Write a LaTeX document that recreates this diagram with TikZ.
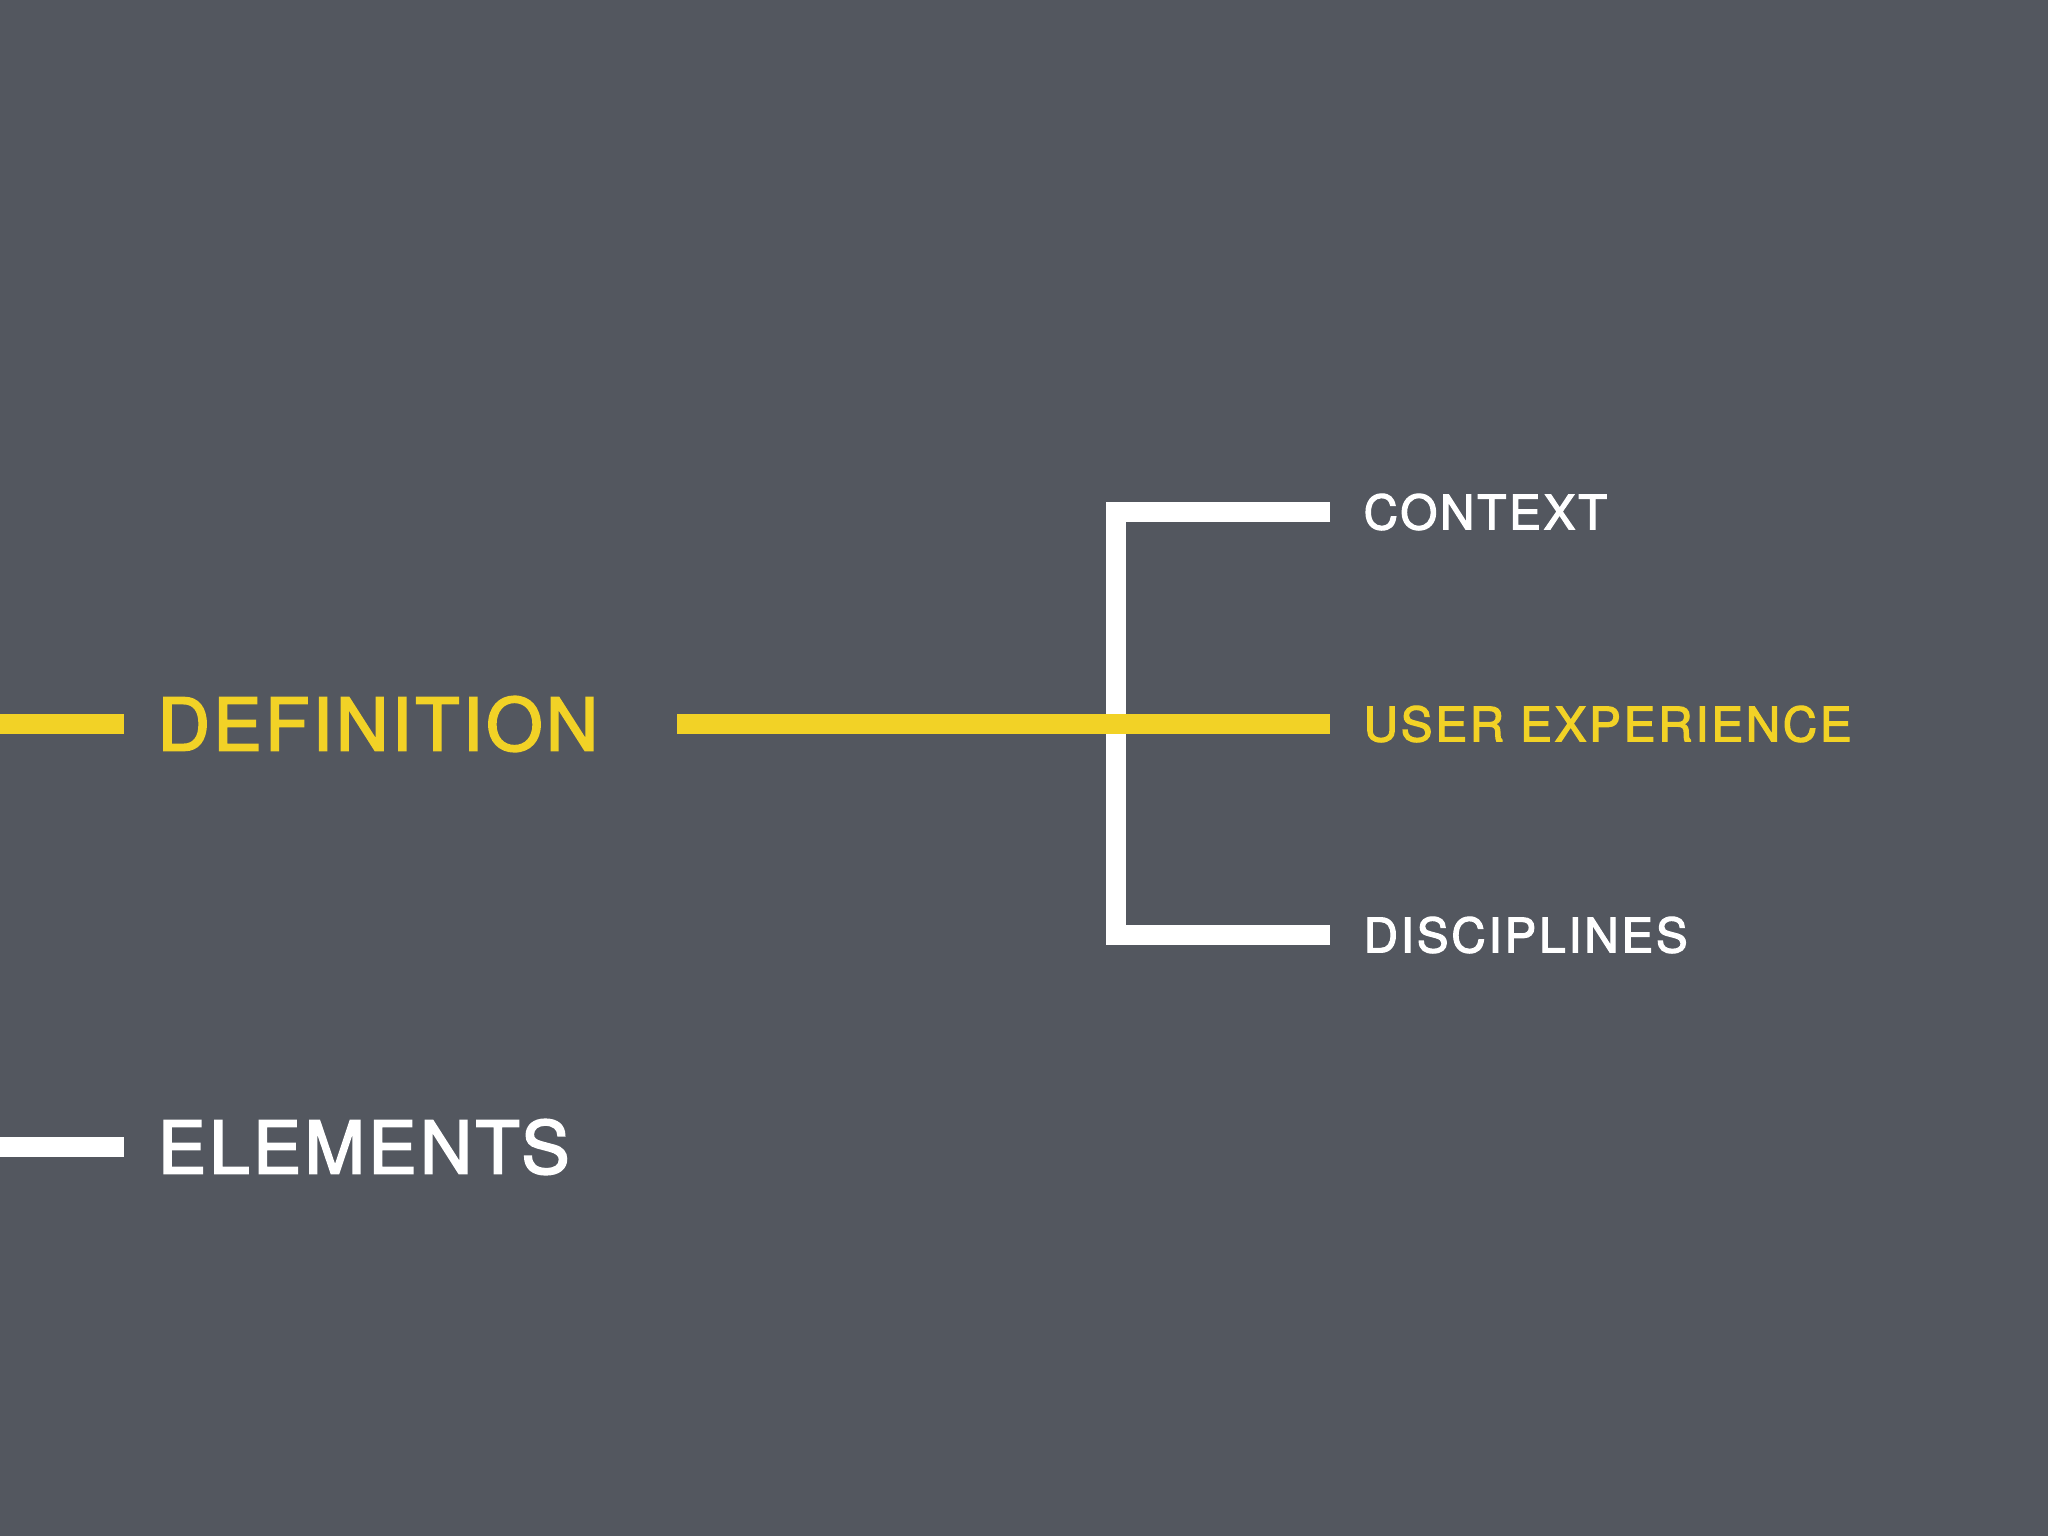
\documentclass[tikz,border=0pt]{standalone}
\usepackage{fontspec}
\setmainfont{TeX Gyre Heros}
\newfontfamily\headfont[LetterSpace=4.6,FakeBold=2.5]{TeX Gyre Heros}
\newfontfamily\itemfont[LetterSpace=6,FakeBold=2.5]{TeX Gyre Heros}
\usetikzlibrary{calc,positioning}
\definecolor{slate}{RGB}{83,87,95}
\definecolor{signal}{RGB}{242,210,38}
\tikzset{
  bar/.style={line width=0.2cm, line cap=butt, line join=miter},
  head/.style={inner sep=0pt, anchor=west, font=\headfont\fontsize{20.6pt}{24pt}\selectfont},
  item/.style={inner sep=0pt, font=\itemfont\fontsize{13.5pt}{16pt}\selectfont}
}

\begin{document}
\begin{tikzpicture}[x=0.01cm,y=-0.01cm]
		%%%%% START %%%%%
		\fill[slate] (0,0) rectangle (2048,1536);
		\useasboundingbox (0,0) rectangle (2048,1536);
		
		% left column
		\node[head, text=signal] (definition) at (157,724) {DEFINITION};
		\node[head, text=white] (elements) at (157,1147) {ELEMENTS};
		\coordinate (defin) at (0,724);
		\coordinate (elin) at (0,1147);
		\draw[bar, signal, shorten >=0.33cm] (defin) -- (definition.west);
		\draw[bar, white, shorten >=0.33cm] (elin) -- (elements.west);
		
		% bracket
		\coordinate (ctxend) at (1330,512);
		\coordinate (uxend) at (1330,724);
		\coordinate (disend) at (1330,935);
		\coordinate (spine) at (1116,724);
		\draw[bar, white] (ctxend) -- (spine |- ctxend) -- (spine |- disend) -- (disend);
		\draw[bar, signal] ([xshift=5.2cm]definition.west) -- (uxend);
		
		% right column
		\node[item, text=white, right=0.33cm of ctxend] (context) {CONTEXT};
		\node[item, text=signal, right=0.33cm of uxend] (ux) {USER EXPERIENCE};
		\node[item, text=white, right=0.33cm of disend] (disciplines) {DISCIPLINES};
		%%%%% END %%%%%
\end{tikzpicture}
\end{document}
